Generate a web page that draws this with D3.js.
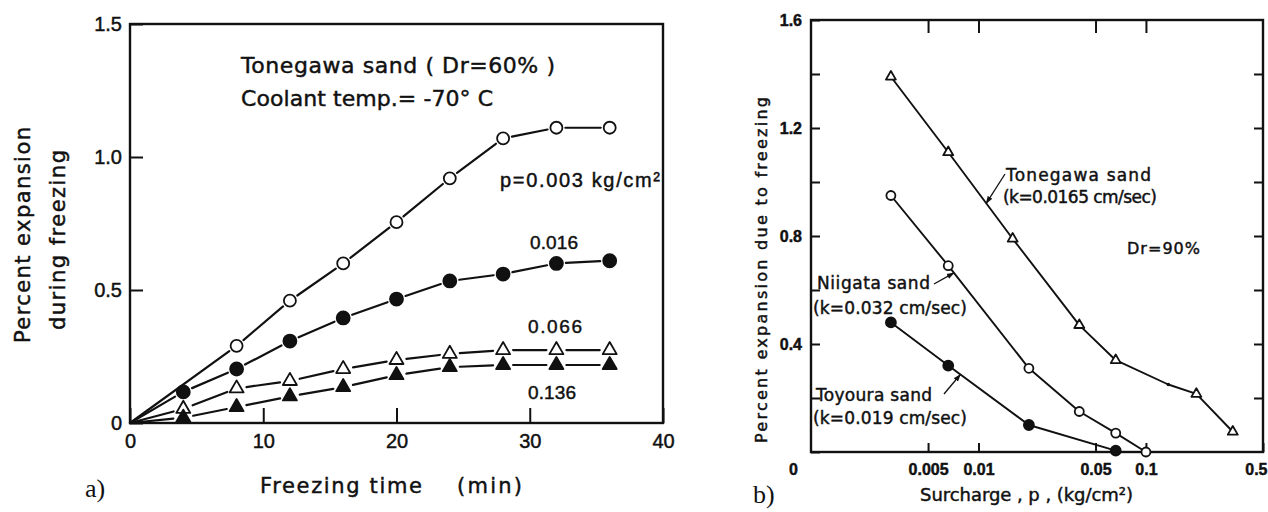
<!DOCTYPE html>
<html>
<head>
<meta charset="utf-8">
<script src="https://cdn.jsdelivr.net/npm/d3@7"></script>
<style>
  html, body { margin: 0; padding: 0; background: #fff; }
  svg { display: block; }
  text { fill: #111; stroke: #111; stroke-width: 0.45px; }
</style>
</head>
<body>
<svg id="fig" width="1268" height="512"></svg>
<script>
// ---------- (a) expansion during freezing vs. freezing time ----------
const freezingTime = [0, 4, 8, 12, 16, 20, 24, 28, 32, 36];           // min
const expP0003 = [0, null, 0.29, 0.46, 0.60, 0.755, 0.92, 1.07, 1.11, 1.11];
const expP0016 = [0, 0.117, 0.203, 0.308, 0.395, 0.466, 0.534, 0.56, 0.60, 0.61];
const expP0066 = [0, 0.053, 0.13, 0.158, 0.203, 0.237, 0.26, 0.274, 0.274, 0.274];
const expP0136 = [0, 0.02, 0.06, 0.10, 0.135, 0.18, 0.21, 0.218, 0.218, 0.218];
const seriesLabelsA = ["p=0.003 kg/cm²", "0.016", "0.066", "0.136"];
const xTicksA = [0, 10, 20, 30, 40];
const yTicksA = [0, 0.5, 1.0, 1.5];

// ---------- (b) expansion due to freezing vs. surcharge ----------
const surchargeTonegawa = [0.003, 0.0066, 0.016, 0.04, 0.066, 0.136, 0.2, 0.33];
const expTonegawa      = [1.39, 1.11, 0.79, 0.47, 0.34, 0.25, 0.215, 0.075];
const surchargeNiigata = [0.003, 0.0066, 0.02, 0.04, 0.066, 0.1];
const expNiigata       = [0.95, 0.69, 0.31, 0.15, 0.07, 0.0];
const surchargeToyoura = [0.003, 0.0066, 0.02, 0.066];
const expToyoura       = [0.48, 0.32, 0.10, 0.005];
const sandNames = ["Tonegawa sand", "Niigata sand", "Toyoura sand"];
const sandPermeability = ["(k=0.0165 cm/sec)", "(k=0.032 cm/sec)", "(k=0.019 cm/sec)"];
const xTicksB = [0.005, 0.01, 0.05, 0.1, 0.5];
const xTickLabelsB = ["0.005", "0.01", "0.05", "0.1", "0.5"];
const yTicksB = [0, 0.2, 0.4, 0.6, 0.8, 1.0, 1.2, 1.4, 1.6];

const INK = "#111";
const SANS = "'DejaVu Sans', 'Liberation Sans', sans-serif";
const NUM = "'Liberation Sans', Arial, sans-serif";
const svg = d3.select("#fig");
svg.append("rect").attr("width", 1268).attr("height", 512).attr("fill", "#fff");

function label(g, txt, x, y, size, len, opts = {}) {
  const t = g.append("text")
    .attr("x", x).attr("y", y)
    .attr("font-family", opts.family || SANS)
    .attr("font-size", size)
    .attr("text-anchor", opts.anchor || "start")
    .text(txt);
  if (len) t.attr("textLength", len).attr("lengthAdjust", "spacing");
  if (opts.rotate) t.attr("transform", `rotate(-90,${x},${y})`);
  if (opts.plain) t.style("stroke", "none");
  return t;
}

function marker(g, kind, x, y, s) {
  if (kind === "circleOpen" || kind === "circleFilled") {
    g.append("circle").attr("cx", x).attr("cy", y).attr("r", s)
      .attr("fill", kind === "circleOpen" ? "#fff" : INK)
      .attr("stroke", INK).attr("stroke-width", 1.8);
  } else if (kind === "triOpen" || kind === "triFilled") {
    const area = Math.sqrt(3) / 4 * (2 * s) * (2 * s);
    g.append("path").attr("d", d3.symbol(d3.symbolTriangle, area)())
      .attr("transform", `translate(${x},${y})`)
      .attr("fill", kind === "triOpen" ? "#fff" : INK)
      .attr("stroke", INK).attr("stroke-width", 1.8).attr("stroke-linejoin", "round");
  } else if (kind === "dot") {
    g.append("circle").attr("cx", x).attr("cy", y).attr("r", 1.8).attr("fill", INK);
  }
}

function styleAxis(g, size, family, weight) {
  g.select(".domain").remove();
  g.attr("font-size", size).attr("font-family", family);
  g.selectAll(".tick line").attr("stroke", INK).attr("stroke-width", 2);
  g.selectAll(".tick text").attr("font-size", size).attr("font-family", family)
    .attr("font-weight", weight || "normal").attr("fill", INK);
}

// =================== panel (a) ===================
const xA = d3.scaleLinear().domain([0, 40]).range([130, 663]);
const yA = d3.scaleLinear().domain([0, 1.5]).range([423, 24]);
const gA = svg.append("g");

gA.append("rect")
  .attr("x", xA(0)).attr("y", yA(1.5))
  .attr("width", xA(40) - xA(0)).attr("height", yA(0) - yA(1.5))
  .attr("fill", "none").attr("stroke", INK).attr("stroke-width", 2.4);

const axXA = gA.append("g").attr("transform", `translate(0,${yA(0)})`)
  .call(d3.axisBottom(xA).tickValues(xTicksA).tickSize(-15).tickPadding(11).tickFormat(d => d));
styleAxis(axXA, 20, NUM);

const axYA = gA.append("g").attr("transform", `translate(${xA(0)},0)`)
  .call(d3.axisLeft(yA).tickValues(yTicksA).tickSize(-13).tickPadding(8)
    .tickFormat(d => d === 0 ? "0" : d.toFixed(1)));
styleAxis(axYA, 20, NUM);

// series with small breaks around each plotted symbol
const seriesA = [
  { vals: expP0003, kind: "circleOpen", r: 6 },
  { vals: expP0016, kind: "circleFilled", r: 6.5 },
  { vals: expP0066, kind: "triOpen", r: 7 },
  { vals: expP0136, kind: "triFilled", r: 7 }
];
seriesA.forEach(s => {
  const pts = freezingTime.map((t, i) => ({ t, v: s.vals[i], mk: t > 0 }))
    .filter(p => p.v !== null)
    .map(p => ({ x: xA(p.t), y: yA(p.v), mk: p.mk }));
  const gap = s.r + 3;
  for (let i = 0; i < pts.length - 1; i++) {
    const a = pts[i], b = pts[i + 1];
    const dx = b.x - a.x, dy = b.y - a.y, L = Math.hypot(dx, dy);
    const g0 = a.mk ? gap : 0, g1 = b.mk ? gap : 0;
    if (L <= g0 + g1) continue;
    gA.append("line")
      .attr("x1", a.x + dx / L * g0).attr("y1", a.y + dy / L * g0)
      .attr("x2", b.x - dx / L * g1).attr("y2", b.y - dy / L * g1)
      .attr("stroke", INK).attr("stroke-width", 2.2).attr("stroke-linecap", "round");
  }
  pts.filter(p => p.mk).forEach(p => marker(gA, s.kind, p.x, p.y, s.r));
});

label(gA, "Tonegawa sand ( Dr=60% )", 241, 73, 22, 314);
label(gA, "Coolant temp.= -70° C", 241, 106, 22, 252);
label(gA, seriesLabelsA[0], 500, 187, 20, 160, { family: NUM });
label(gA, seriesLabelsA[1], 530, 249, 19, 48, { family: NUM });
label(gA, seriesLabelsA[2], 528, 333, 19, 54, { family: NUM });
label(gA, seriesLabelsA[3], 528, 399, 19, 48, { family: NUM });

label(gA, "Freezing time", 260, 493, 21, 162);
label(gA, "(min)", 457, 493, 21, 65);
label(gA, "Percent expansion", 30, 235, 21, 216, { anchor: "middle", rotate: true });
label(gA, "during freezing", 65, 240, 21, 180, { anchor: "middle", rotate: true });
label(gA, "a)", 85, 497, 26, null, { family: "'Liberation Serif', 'Times New Roman', serif", plain: true });

// =================== panel (b) ===================
const xB = d3.scaleLog().domain([0.001, 0.5]).range([811, 1263]);
const yB = d3.scaleLinear().domain([0, 1.6]).range([452, 20]);
const gB = svg.append("g");

gB.append("rect")
  .attr("x", xB(0.001)).attr("y", yB(1.6))
  .attr("width", xB(0.5) - xB(0.001)).attr("height", yB(0) - yB(1.6))
  .attr("fill", "none").attr("stroke", INK).attr("stroke-width", 2.4);

const axTopB = gB.append("g").attr("transform", `translate(0,${yB(1.6)})`)
  .call(d3.axisTop(xB).tickValues(xTicksB.slice(0, 4)).tickSize(-13).tickFormat(""));
styleAxis(axTopB, 16, NUM);

const axBotB = gB.append("g").attr("transform", `translate(0,${yB(0)})`)
  .call(d3.axisBottom(xB).tickValues(xTicksB).tickSize(-9).tickPadding(12)
    .tickFormat((d, i) => xTickLabelsB[i]));
styleAxis(axBotB, 16, NUM, "bold");
// last label sits at the frame corner: keep it inside the page
axBotB.selectAll(".tick text").filter(d => Math.abs(d - 0.5) < 1e-9)
  .attr("text-anchor", "end").attr("x", 4);

const isMajor = d => Math.abs(d / 0.4 - Math.round(d / 0.4)) < 1e-6;
const axLeftB = gB.append("g").attr("transform", `translate(${xB(0.001)},0)`)
  .call(d3.axisLeft(yB).tickValues(yTicksB).tickSize(-9).tickPadding(9)
    .tickFormat(d => isMajor(d) ? (d === 0 ? "0" : d.toFixed(1)) : ""));
styleAxis(axLeftB, 16, NUM, "bold");
axLeftB.selectAll(".tick text").filter(d => d === 0).attr("dy", "1.4em").attr("dx", -4);

const axRightB = gB.append("g").attr("transform", `translate(${xB(0.5)},0)`)
  .call(d3.axisRight(yB).tickValues(yTicksB.slice(1, 8)).tickSize(-9).tickFormat(""));
styleAxis(axRightB, 16, NUM);

const seriesB = [
  { xs: surchargeTonegawa, ys: expTonegawa, kind: "triOpen", r: 5,
    kinds: ["triOpen", "triOpen", "triOpen", "triOpen", "triOpen", "dot", "triOpen", "triOpen"] },
  { xs: surchargeNiigata, ys: expNiigata, kind: "circleOpen", r: 4.5 },
  { xs: surchargeToyoura, ys: expToyoura, kind: "circleFilled", r: 5 }
];
const lineB = d3.line().x(d => xB(d[0])).y(d => yB(d[1]));
seriesB.forEach(s => {
  const pts = s.xs.map((x, i) => [x, s.ys[i]]);
  gB.append("path").attr("d", lineB(pts)).attr("fill", "none")
    .attr("stroke", INK).attr("stroke-width", 1.9).attr("stroke-linejoin", "round");
  pts.forEach((p, i) => marker(gB, s.kinds ? s.kinds[i] : s.kind, xB(p[0]), yB(p[1]), s.r));
});

// leader arrows from each sand label to its curve
svg.append("defs").append("marker")
  .attr("id", "arrow").attr("viewBox", "0 0 10 10").attr("refX", 9).attr("refY", 5)
  .attr("markerWidth", 6).attr("markerHeight", 6).attr("orient", "auto")
  .append("path").attr("d", "M0,1.5 L10,5 L0,8.5 Z").attr("fill", INK);

function pointOnSegment(s, i, t) {
  const x0 = xB(s.xs[i]), y0 = yB(s.ys[i]), x1 = xB(s.xs[i + 1]), y1 = yB(s.ys[i + 1]);
  return [x0 + (x1 - x0) * t, y0 + (y1 - y0) * t];
}
const leaders = [
  { s: 0, seg: 1, t: 0.59, from: [1005, 174] },
  { s: 1, seg: 1, t: 0.07, from: [934, 284] },
  { s: 2, seg: 1, t: 0.15, from: [944, 394] }
];
leaders.forEach(l => {
  const tip = pointOnSegment(seriesB[l.s], l.seg, l.t);
  gB.append("line").attr("x1", l.from[0]).attr("y1", l.from[1])
    .attr("x2", tip[0]).attr("y2", tip[1])
    .attr("stroke", INK).attr("stroke-width", 1.3).attr("marker-end", "url(#arrow)");
});

label(gB, sandNames[0], 1006, 181, 17, 145);
label(gB, sandPermeability[0], 1003, 203, 17, 154);
label(gB, sandNames[1], 817, 289, 17, 113);
label(gB, sandPermeability[1], 813, 314, 17, 154);
label(gB, sandNames[2], 816, 401, 17, 116);
label(gB, sandPermeability[2], 813, 424, 17, 154);
label(gB, "Dr=90%", 1127, 254, 16, 73);

label(gB, "Surcharge , p , (kg/cm²)", 920, 501, 18, 213);
label(gB, "Percent expansion due to freezing", 767, 270, 16, 346, { anchor: "middle", rotate: true });
label(gB, "b)", 753, 503, 26, null, { family: "'Liberation Serif', 'Times New Roman', serif", plain: true });
</script>
</body>
</html>
